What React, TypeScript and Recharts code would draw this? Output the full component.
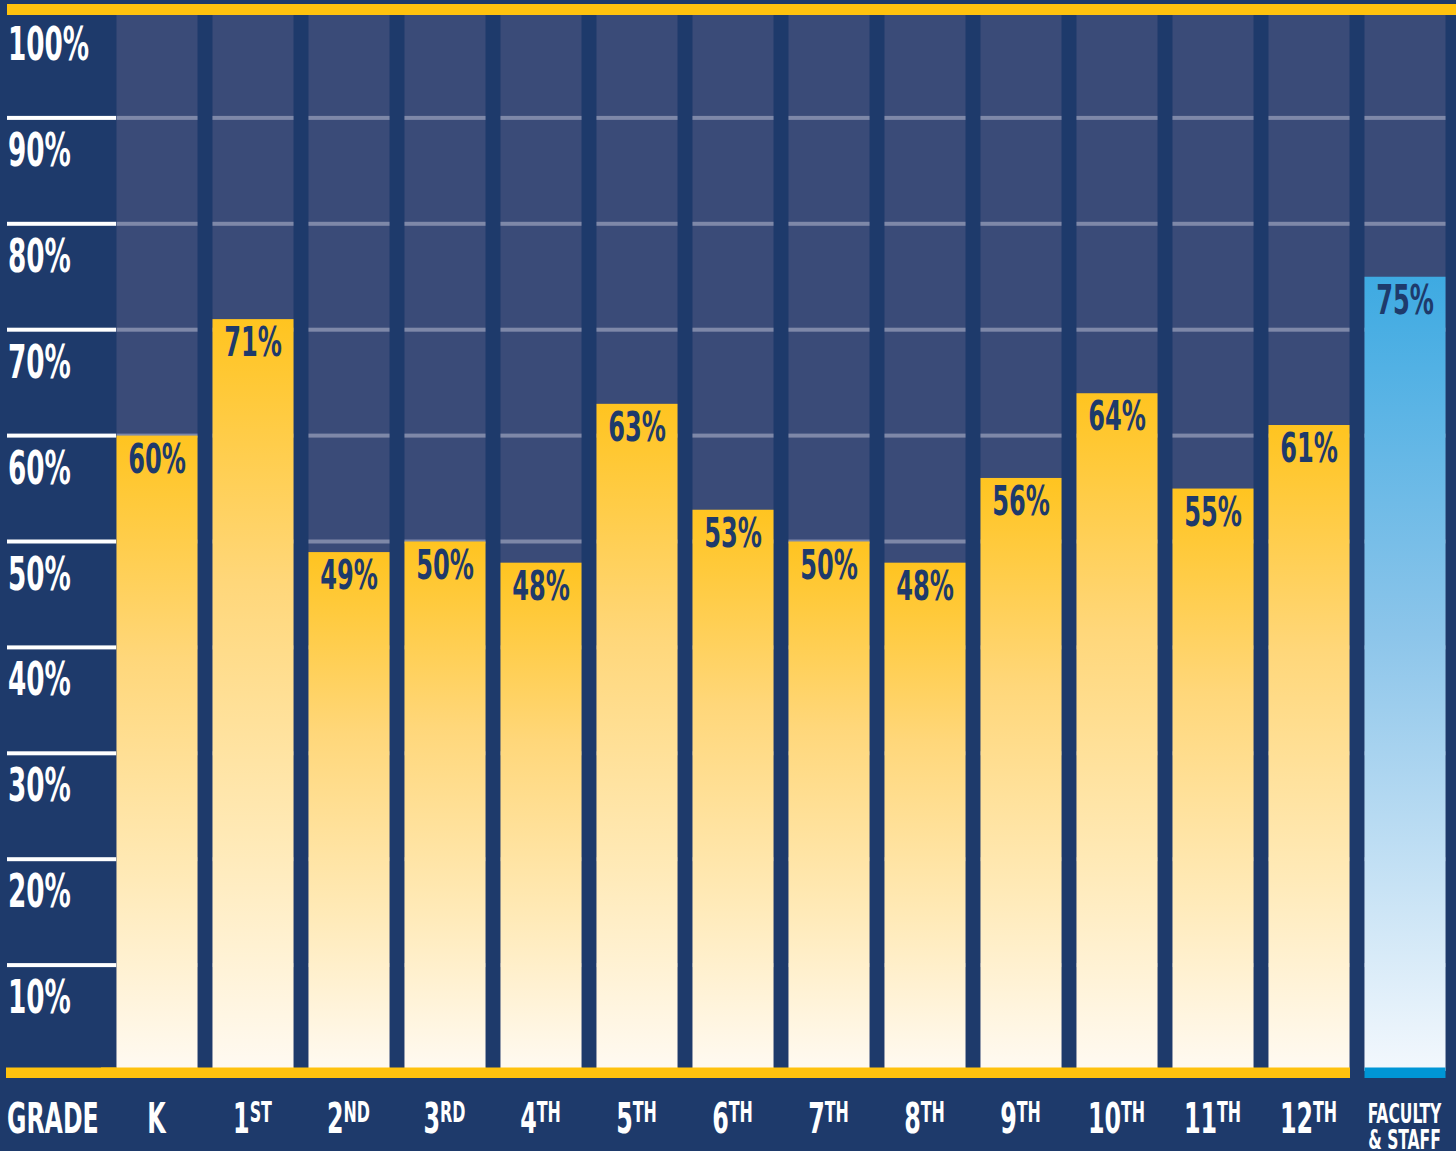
import { BarChart, Bar, XAxis, YAxis, LabelList, ReferenceLine } from "recharts";

const grades = ["K", "1ST", "2ND", "3RD", "4TH", "5TH", "6TH", "7TH", "8TH", "9TH", "10TH", "11TH", "12TH", "FACULTY & STAFF"];
const rates = [60, 71, 49, 50, 48, 63, 53, 50, 48, 56, 64, 55, 61, 75];
const yTicks = [0, 10, 20, 30, 40, 50, 60, 70, 80, 90, 100];

const STAFF = "FACULTY & STAFF";
const W = 1456;
const H = 1151;
const NAVY = "#1e3a6b";
const COLUMN = "#3a4b78";
const GRID = "#7e88a8";
const GOLD = "#ffc20e";
const BLUE_BASE = "#0096d6";
const FONT = "'DejaVu Sans Condensed', 'DejaVu Sans', sans-serif";
const PLOT_LEFT = 108.5;

const ColumnBg = (p: any) => (
    <g>
        <rect x={p.x} y={p.y} width={p.width} height={p.height} fill={COLUMN} />
        {yTicks.filter((t) => t > 0 && t < 100).map((t) => (
            <rect
                key={t}
                x={p.x}
                y={p.y + p.height * (1 - t / 100) - 2}
                width={p.width}
                height={4}
                fill={GRID}
            />
        ))}
    </g>
);

const BarShape = (p: any) => {
    const isStaff = p.payload.grade === STAFF;
    const bottom = p.y + p.height;
    return (
        <g>
            <rect x={p.x} y={p.y} width={p.width} height={p.height} fill={isStaff ? "url(#blueFade)" : "url(#goldFade)"} />
            {isStaff ? (
                <rect x={p.x} y={bottom - 3.5} width={p.width} height={10.5} fill={BLUE_BASE} />
            ) : (
                <rect x={p.x - 15.5} y={bottom - 3.5} width={p.width + 16} height={10.5} fill={GOLD} />
            )}
        </g>
    );
};

const BarLabel = (p: any) => (
    <text
        transform={`translate(${p.x + p.width / 2},${p.y + 37}) scale(0.67,1)`}
        textAnchor="middle"
        fill={NAVY}
        fontFamily={FONT}
        fontWeight={700}
        fontSize={40}
    >
        {p.value}%
    </text>
);

const PercentTick = (p: any) => {
    const v = p.payload.value;
    if (v === 0) {
        return (
            <g>
                <rect x={6} y={p.y - 3.5} width={PLOT_LEFT + 8 - 6} height={10.5} fill={GOLD} />
                <text
                    transform={`translate(7,${p.y + 62}) scale(0.626,1)`}
                    fill="#fff"
                    fontFamily={FONT}
                    fontWeight={700}
                    fontSize={42}
                >
                    GRADE
                </text>
            </g>
        );
    }
    return (
        <g>
            {v < 100 && <rect x={7} y={p.y - 2} width={PLOT_LEFT + 7.5 - 7} height={4} fill="#fff" />}
            <text
                transform={`translate(8,${p.y + 48}) scale(0.635,1)`}
                fill="#fff"
                fontFamily={FONT}
                fontWeight={700}
                fontSize={46}
            >
                {v}%
            </text>
        </g>
    );
};

const GradeTick = (p: any) => {
    const label: string = p.payload.value;
    const base = p.y + 62;
    if (label === STAFF) {
        return (
            <text
                transform={`translate(${p.x},0) scale(0.64,1)`}
                textAnchor="middle"
                fill="#fff"
                fontFamily={FONT}
                fontWeight={700}
                fontSize={27}
            >
                <tspan x={0} y={p.y + 52}>FACULTY</tspan>
                <tspan x={0} y={p.y + 78}>&amp; STAFF</tspan>
            </text>
        );
    }
    const m = label.match(/^(\d+)(\D+)$/);
    return (
        <text
            transform={`translate(${p.x},${base}) scale(0.63,1)`}
            textAnchor="middle"
            fill="#fff"
            fontFamily={FONT}
            fontWeight={700}
            fontSize={42}
        >
            {m ? (
                <>
                    <tspan>{m[1]}</tspan>
                    <tspan fontSize={28} dy={-11}>{m[2]}</tspan>
                </>
            ) : (
                label
            )}
        </text>
    );
};

const TopStrip = (p: any) => (
    <rect x={7} y={p.y1 - 8} width={W - 7} height={11} fill={GOLD} />
);

export default function App() {
    const data = grades.map((g, i) => ({ grade: g, rate: rates[i] }));

    return (
        <div style={{ position: "absolute", left: 0, top: 0, width: W, height: H, background: NAVY, overflow: "hidden" }}>
            <BarChart
                width={W}
                height={H}
                data={data}
                margin={{ top: 12, right: 3.5, bottom: 0, left: 8.5 }}
                barSize={81}
            >
                <defs>
                    <linearGradient id="goldFade" x1="0" y1="0" x2="0" y2="1">
                        <stop offset="0%" stopColor="#ffc420" />
                        <stop offset="35%" stopColor="#ffd77a" />
                        <stop offset="70%" stopColor="#ffeab8" />
                        <stop offset="100%" stopColor="#fffaf2" />
                    </linearGradient>
                    <linearGradient id="blueFade" x1="0" y1="0" x2="0" y2="1">
                        <stop offset="0%" stopColor="#3eaae2" />
                        <stop offset="45%" stopColor="#8cc5ea" />
                        <stop offset="100%" stopColor="#f3f8fd" />
                    </linearGradient>
                </defs>

                <XAxis
                    dataKey="grade"
                    height={80}
                    axisLine={false}
                    tickLine={false}
                    tickSize={0}
                    tickMargin={0}
                    interval={0}
                    tick={<GradeTick />}
                />
                <YAxis
                    domain={[0, 100]}
                    ticks={yTicks}
                    width={100}
                    axisLine={false}
                    tickLine={false}
                    tickSize={0}
                    tickMargin={0}
                    interval={0}
                    tick={<PercentTick />}
                />

                <Bar
                    dataKey="rate"
                    isAnimationActive={false}
                    background={ColumnBg}
                    shape={BarShape}
                >
                    <LabelList dataKey="rate" content={BarLabel} />
                </Bar>

                <ReferenceLine y={100} ifOverflow="visible" shape={TopStrip} />
            </BarChart>
        </div>
    );
}
